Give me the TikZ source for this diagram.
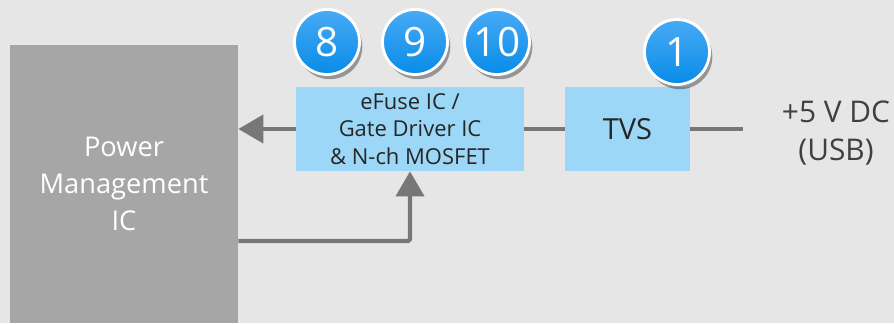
\documentclass[tikz,border=0pt]{standalone}
\usepackage{fontspec}
\setmainfont{Open Sans}
\usepackage{xcolor}
\usetikzlibrary{arrows.meta, positioning, shadows}
\definecolor{bgcolor}{RGB}{230,230,230}
\definecolor{pmiccolor}{RGB}{166,166,166}
\definecolor{blockcolor}{RGB}{157,215,247}
\definecolor{wirecolor}{RGB}{119,119,119}
\definecolor{badgetop}{RGB}{72,170,245}
\definecolor{badgebot}{RGB}{8,140,232}
\definecolor{labelcolor}{RGB}{64,64,64}

\begin{document}
\begin{tikzpicture}[
  every node/.style={align=center},
  pmicbox/.style={
    fill=pmiccolor, minimum width=4.56cm, minimum height=5.56cm,
    inner sep=0pt, text=white, font=\fontsize{15.5}{21}\selectfont
  },
  blockbox/.style={
    fill=blockcolor, minimum height=1.68cm, inner sep=0pt,
    text=black!85
  },
  badge/.style={
    circle, draw=white, line width=1.6pt, minimum size=1.3cm, inner sep=0pt,
    top color=badgetop, bottom color=badgebot, text=white,
    font=\fontsize{23}{23}\selectfont,
    drop shadow={shadow xshift=0.3ex, shadow yshift=-0.5ex, opacity=0.35, fill=black}
  },
  wire/.style={wirecolor, line width=2.3pt},
  arr/.style={wire, -{Triangle[length=0.5cm, width=0.56cm]}},
]

%% ─── Canvas ──────────────────────────────────────────────────────────────────

\fill[bgcolor] (0,0) rectangle (17.88,6.46);
\useasboundingbox (0,0) rectangle (17.88,6.46);

%% ─── Blocks ──────────────────────────────────────────────────────────────────

\node[pmicbox] (pmic) at (2.48, 2.78) {Power\\Management\\IC};

\node[blockbox, minimum width=4.56cm, font=\fontsize{12.5}{15.8}\selectfont]
  (efuse) at (8.20, 3.88) {eFuse IC /\\Gate Driver IC\\\& N-ch MOSFET};

\node[blockbox, minimum width=2.50cm, font=\fontsize{16.5}{18}\selectfont]
  (tvs) at (12.55, 3.88) {TVS};

\coordinate (usbend) at (14.86, 3.88);

\node[text=labelcolor, font=\fontsize{17}{21.5}\selectfont]
  (usb) at (16.72, 3.80) {+5 V DC\\(USB)};

%% ─── Connectors ──────────────────────────────────────────────────────────────

\draw[wire] (tvs.east) -- (usbend);
\draw[wire] (efuse.east) -- (tvs.west);
\draw[arr] (efuse.west) -- (pmic.east |- efuse.west);
\draw[arr, rounded corners=1pt] (pmic.east |- 0,1.64) -| (efuse.south);

%% ─── Badges ──────────────────────────────────────────────────────────────────

\node[badge] (b8)  at (6.54, 5.62) {8};
\node[badge] (b9)  at (8.30, 5.62) {9};
\node[badge] (b10) at (9.94, 5.62) {10};
\node[badge] (b1)  at (13.54, 5.42) {1};

\end{tikzpicture}
\end{document}
